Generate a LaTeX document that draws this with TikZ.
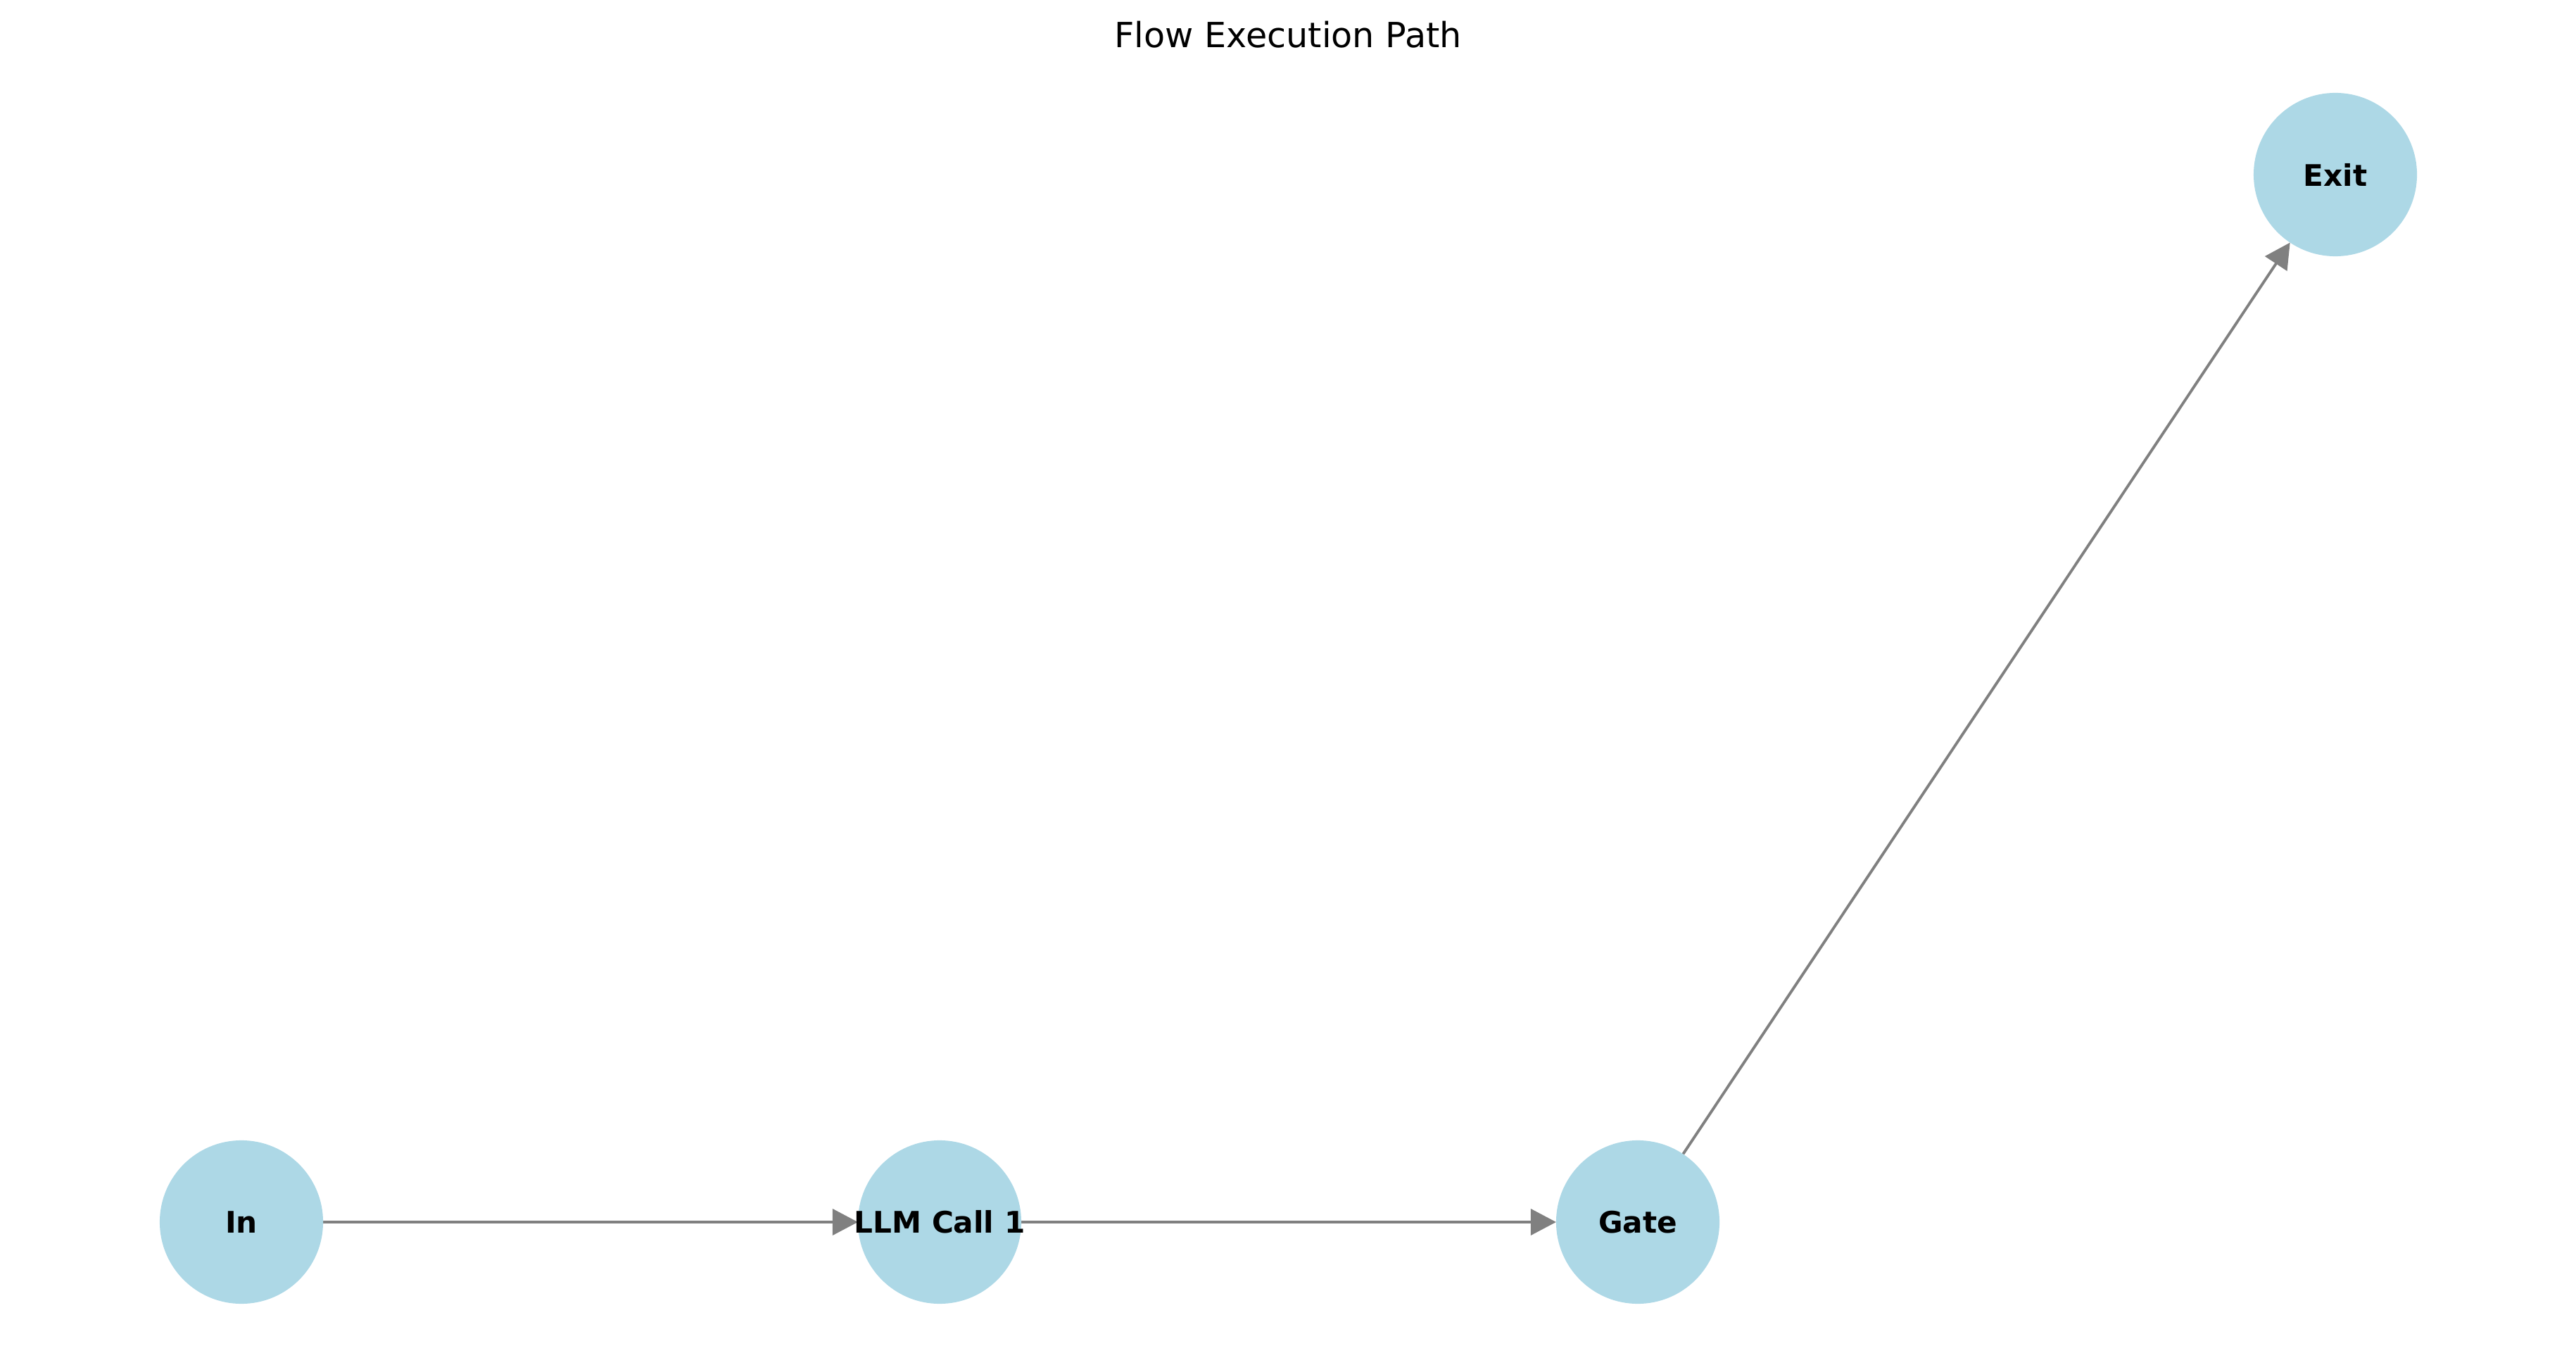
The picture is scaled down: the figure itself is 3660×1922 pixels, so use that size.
\documentclass[tikz,border=0pt]{standalone}
\usepackage{fontspec}
\setmainfont{DejaVu Sans}
\usetikzlibrary{arrows.meta}
\usetikzlibrary{backgrounds}
\definecolor{nodeblue}{RGB}{173,216,230}
\tikzset{flownode/.style = {circle, fill=nodeblue, minimum size=2.32cm, inner sep=0pt, outer sep=0pt,
                            label={[font=\fontsize{12}{14}\selectfont\bfseries]center:#1}},
         flowedge/.style = {draw=gray, line width=1.1pt,
                            -{Triangle[length=0.36cm, width=0.37cm]}}}

\begin{document}
\begin{tikzpicture}[x=0.01cm, y=-0.01cm]
    \useasboundingbox (0, 0) rectangle (3660, 1922);
    \node [anchor=base, font=\fontsize{14}{17}\selectfont] (title) at (1830, 68) {Flow Execution Path};
    \node [flownode=In]         (in)   at (343, 1736)  {};
    \node [flownode=LLM Call 1] (llm)  at (1335, 1736) {};
    \node [flownode=Gate]       (gate) at (2327, 1736) {};
    \node [flownode=Exit]       (exit) at (3318, 248)  {};
    \begin{scope}[on background layer]
      \draw [flowedge] (in) -- (llm);
      \draw [flowedge] (llm) -- (gate);
      \draw [flowedge] (gate) -- (exit);
    \end{scope}
  \end{tikzpicture}
\end{document}
